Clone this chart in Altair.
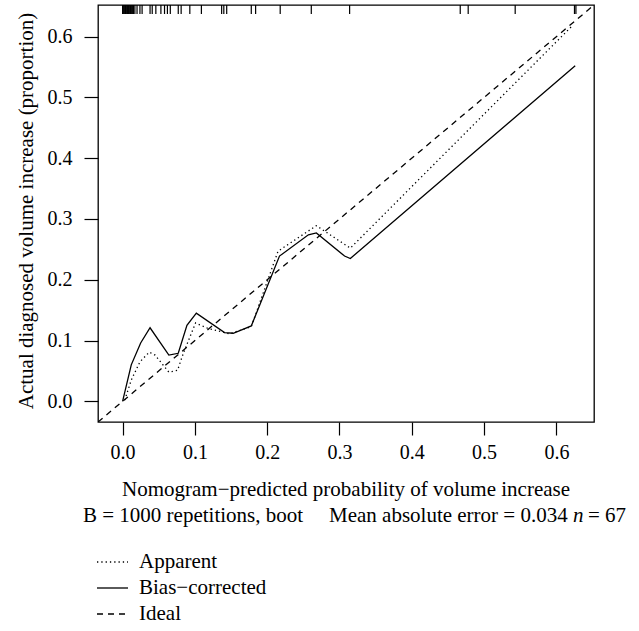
import altair as alt
import pandas as pd

# ---------------- data ----------------
axis_min, axis_max = -0.034, 0.652
tick_values = [0.0, 0.1, 0.2, 0.3, 0.4, 0.5, 0.6]

bias_x = [0.000, 0.012, 0.025, 0.038, 0.064, 0.077, 0.089, 0.102, 0.141, 0.153,
          0.178, 0.217, 0.257, 0.268, 0.307, 0.315, 0.626]
bias_y = [0.000, 0.060, 0.096, 0.121, 0.076, 0.079, 0.125, 0.145, 0.113, 0.112,
          0.124, 0.239, 0.274, 0.277, 0.239, 0.235, 0.552]

app_x = [0.003, 0.012, 0.024, 0.037, 0.045, 0.064, 0.076, 0.084, 0.101, 0.118,
         0.148, 0.178, 0.215, 0.268, 0.315, 0.623]
app_y = [0.002, 0.035, 0.065, 0.081, 0.076, 0.048, 0.051, 0.079, 0.129, 0.120,
         0.111, 0.123, 0.247, 0.289, 0.252, 0.619]

ideal_x = [-0.034, 0.652]
ideal_y = [-0.034, 0.652]

rug_x = [0.000, 0.001, 0.002, 0.003, 0.004, 0.005, 0.006, 0.007, 0.008, 0.009,
         0.010, 0.011, 0.012, 0.013, 0.014, 0.015, 0.017, 0.020, 0.024, 0.027,
         0.038, 0.041, 0.046, 0.053, 0.058, 0.062, 0.066, 0.077, 0.081, 0.093,
         0.109, 0.137, 0.140, 0.144, 0.178, 0.184, 0.218, 0.261, 0.314, 0.467,
         0.478, 0.543, 0.625, 0.627]

legend_labels = ["Apparent", "Bias\u2212corrected", "Ideal"]
x_title = "Nomogram\u2212predicted probability of volume increase"
y_title = "Actual diagnosed volume increase (proportion)"
sub_left = "B = 1000 repetitions, boot"
sub_mid = "Mean absolute error = 0.034"
sub_n = "n"
sub_right = "= 67"

# ---------------- styling ----------------
W, H = 496, 417
FONT = "Liberation Serif"
DOT = [1.3, 3]
DASH = [6, 5]

bias_df = pd.DataFrame({"x": bias_x, "y": bias_y})
app_df = pd.DataFrame({"x": app_x, "y": app_y})
ideal_df = pd.DataFrame({"x": ideal_x, "y": ideal_y})
rug_df = pd.DataFrame({"x": rug_x})

xs = alt.Scale(domain=[axis_min, axis_max], nice=False, zero=False)
ys = alt.Scale(domain=[axis_min, axis_max], nice=False, zero=False)

x_axis = alt.Axis(values=tick_values, format=".1f", title=None, grid=False, domain=False,
                  tickSize=13, tickColor="black", tickWidth=1.2,
                  labelFont=FONT, labelFontSize=20, labelColor="black", labelPadding=7,
                  labelFlush=False, labelOverlap=False)
y_axis = alt.Axis(values=tick_values, format=".1f", title=None, grid=False, domain=False,
                  tickSize=14, tickColor="black", tickWidth=1.2,
                  labelFont=FONT, labelFontSize=20, labelColor="black", labelPadding=12,
                  labelAngle=0, labelFlush=False, labelOverlap=False)

X = alt.X("x:Q", scale=xs, axis=x_axis)
Y = alt.Y("y:Q", scale=ys, axis=y_axis)

ideal = alt.Chart(ideal_df).mark_line(color="black", strokeWidth=1.3, strokeDash=DASH, clip=True).encode(x=X, y=Y)
app = alt.Chart(app_df).mark_line(color="black", strokeWidth=1.3, strokeDash=DOT).encode(x=X, y=Y)
bias = alt.Chart(bias_df).mark_line(color="black", strokeWidth=1.3).encode(x=X, y=Y)
rug = alt.Chart(rug_df).mark_rule(color="black", strokeWidth=1.2).encode(
    x=alt.X("x:Q", scale=xs, axis=x_axis), y=alt.value(0), y2=alt.value(9))

def txt(s, x, y, align="left", angle=0, style="normal"):
    return alt.Chart(pd.DataFrame({"t": [s]})).mark_text(
        font=FONT, fontSize=21, color="black", align=align, baseline="middle",
        angle=angle, fontStyle=style).encode(x=alt.value(x), y=alt.value(y), text="t:N")

texts = [
    txt(y_title, -71, 206, align="center", angle=270),
    txt(x_title, 248, 485, align="center"),
    txt(sub_left, -15, 511),
    txt(sub_mid, 231, 511),
    txt(sub_n, 475, 511, style="italic"),
    txt(sub_right, 490, 511),
]

legend_y = [557, 583, 609]
dashes = [DOT, None, DASH]
legend_layers = []
for lab, ly, d in zip(legend_labels, legend_y, dashes):
    kw = dict(color="black", strokeWidth=1.3)
    if d is not None:
        kw["strokeDash"] = d
    legend_layers.append(
        alt.Chart(pd.DataFrame({"t": [lab]})).mark_rule(**kw).encode(
            x=alt.value(-1), x2=alt.value(30), y=alt.value(ly)))
    legend_layers.append(txt(lab, 41, ly))

chart = alt.layer(ideal, app, bias, rug, *texts, *legend_layers).properties(
    width=W, height=H,
    padding={"left": 98, "top": 5, "right": 45, "bottom": 209},
    autosize=alt.AutoSizeParams(type="none"),
    background="white",
).configure_view(stroke="black", strokeWidth=1.3)

chart.save("out.html", embed_options={"renderer": "svg", "actions": False})
